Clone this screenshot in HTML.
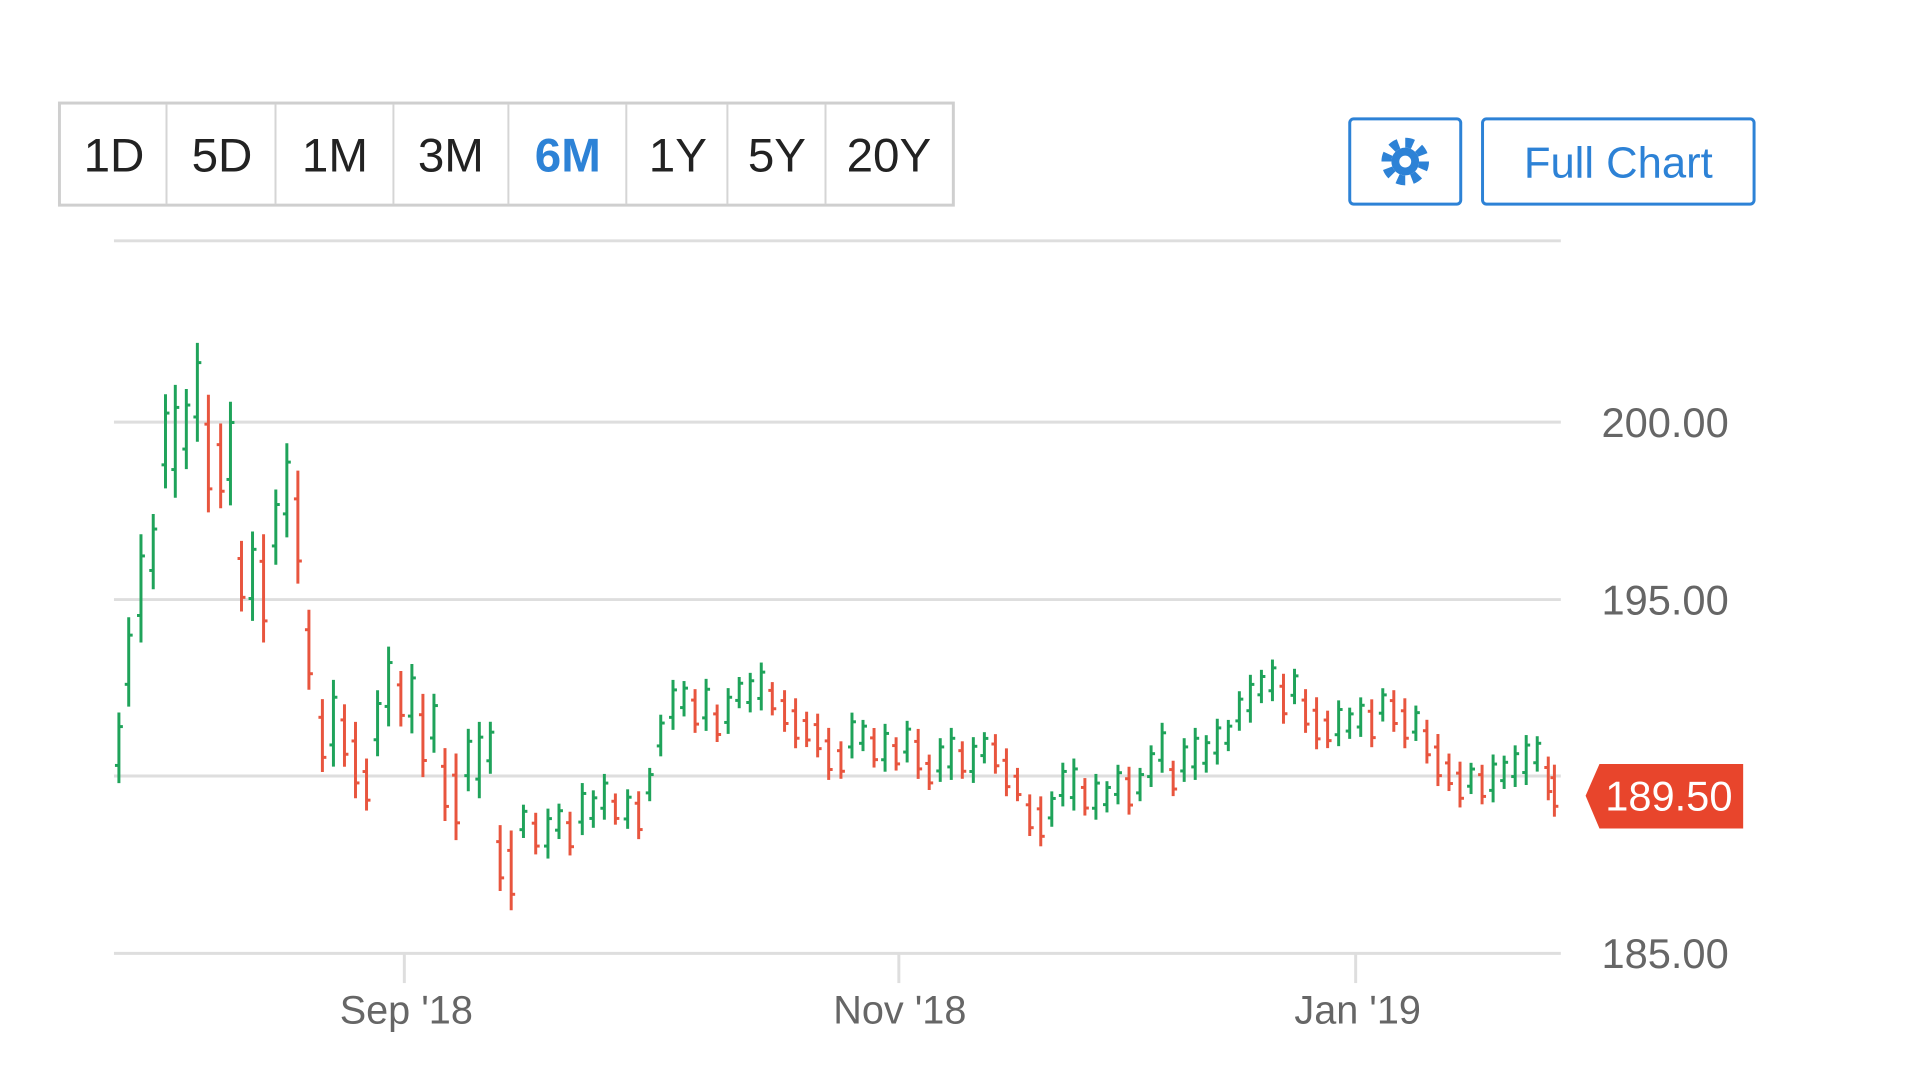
<!DOCTYPE html>
<html><head><meta charset="utf-8">
<style>
html,body{margin:0;padding:0;background:#fff;width:1920px;height:1092px;overflow:hidden;font-family:"Liberation Sans","DejaVu Sans",sans-serif;}
svg{position:absolute;left:0;top:0;}
</style></head>
<body>
<svg id="s" width="1920" height="1092" xmlns="http://www.w3.org/2000/svg">
<g transform="scale(0.991)">
<rect x="60" y="104" width="902" height="103" fill="#fff" stroke="#cfcfcf" stroke-width="3"/>
<g stroke="#d5d5d5" stroke-width="2">
<line x1="168" y1="105" x2="168" y2="206"/><line x1="278" y1="105" x2="278" y2="206"/>
<line x1="397" y1="105" x2="397" y2="206"/><line x1="513" y1="105" x2="513" y2="206"/>
<line x1="632" y1="105" x2="632" y2="206"/><line x1="734" y1="105" x2="734" y2="206"/>
<line x1="833" y1="105" x2="833" y2="206"/>
</g>
<g font-size="48" fill="#222" text-anchor="middle">
<text x="115" y="173">1D</text><text x="224" y="173">5D</text><text x="338" y="173">1M</text>
<text x="455" y="173">3M</text><text x="573" y="173" fill="#2d82d6" font-weight="bold">6M</text>
<text x="684" y="173">1Y</text><text x="784" y="173">5Y</text><text x="897" y="173">20Y</text>
</g>
<rect x="1362" y="120" width="112" height="86" rx="4" fill="#fff" stroke="#2d82d6" stroke-width="3"/>
<g transform="translate(1418,163)">
<circle r="19" fill="none" stroke="#2d82d6" stroke-width="10" stroke-dasharray="8 6.9"/>
<circle r="14" fill="#2d82d6"/>
<circle r="6" fill="#fff"/>
</g>
<rect x="1496" y="120" width="274" height="86" rx="4" fill="#fff" stroke="#2d82d6" stroke-width="3"/>
<text x="1633" y="179" font-size="44" fill="#2d82d6" text-anchor="middle">Full Chart</text>
<g stroke="#dedede" stroke-width="3">
<line x1="115" y1="243" x2="1575" y2="243"/>
<line x1="115" y1="426" x2="1575" y2="426"/>
<line x1="115" y1="605" x2="1575" y2="605"/>
<line x1="115" y1="783" x2="1575" y2="783"/>
<line x1="115" y1="962" x2="1575" y2="962"/>
<line x1="408" y1="962" x2="408" y2="992"/>
<line x1="907" y1="962" x2="907" y2="992"/>
<line x1="1368" y1="962" x2="1368" y2="992"/>
</g>
<g font-size="42" fill="#666">
<text x="1616" y="441">200.00</text>
<text x="1616" y="620">195.00</text>
<text x="1616" y="977">185.00</text>
</g>
<g font-size="40" fill="#666" text-anchor="middle">
<text x="410" y="1033">Sep '18</text>
<text x="908" y="1033">Nov '18</text>
<text x="1370" y="1033">Jan '19</text>
</g>
<g id="bars"></g>
<path d="M1600,803 L1614,771 L1759,771 L1759,836 L1614,836 Z" fill="#e8452c"/>
<text x="1684" y="818" font-size="42" fill="#fff" text-anchor="middle">189.50</text>
</g>
</svg>
<script>
(function(){
var P=[[97,610],[105,540],[115,480],[125,450],[135,360],[143,360],[152,350],[161,320],[170,370],[180,380],[188,370],[197,470],[206,470],[215,480],[225,430],[234,400],[243,430],[252,530],[263,600],[272,590],[281,600],[290,620],[299,640],[308,590],[317,560],[327,570],[336,570],[345,600],[354,590],[363,640],[372,650],[382,620],[391,620],[400,610],[408,700],[417,710],[427,670],[437,680],[447,680],[456,670],[465,680],[475,660],[484,660],[493,650],[502,660],[512,660],[521,665],[530,640],[539,600],[549,575],[558,570],[567,580],[576,575],[585,590],[594,580],[603,565],[612,565],[621,560],[630,570],[640,580],[649,590],[658,595],[667,600],[676,615],[686,620],[695,600],[704,600],[713,610],[722,610],[731,615],[740,605],[749,615],[758,630],[767,620],[776,615],[785,620],[794,620],[803,610],[812,615],[821,630],[830,640],[840,665],[849,670],[858,660],[867,640],[876,640],[885,650],[894,650],[903,650],[912,640],[921,645],[930,640],[939,625],[948,610],[957,635],[966,620],[975,615],[984,615],[993,605],[1002,600],[1011,580],[1020,570],[1029,560],[1038,555],[1047,570],[1056,560],[1065,580],[1074,590],[1083,595],[1092,590],[1101,590],[1110,585],[1119,590],[1128,575],[1137,580],[1146,590],[1155,590],[1164,605],[1173,620],[1182,630],[1191,640],[1200,635],[1209,640],[1218,635],[1227,630],[1236,625],[1245,620],[1254,615],[1263,635],[1268,645]];
var k=1.237,g=document.getElementById('bars'),h='';
for(var i=0;i<P.length;i++){
 var x=P[i][0]*k,m=P[i][1]*k,prev=i>0?P[i-1][1]*k:m+20;
 var r=(P[i][0]<260?95:(P[i][0]<420?70:42))*(0.75+0.5*((i*37)%11)/10);
 var red=m>prev;
 var c=red?'#e8553e':'#1fa35a';
 var y1=m-r/2,y2=m+r/2;
 var o=red?y1+r*0.25:y2-r*0.25, cl=red?y2-r*0.2:y1+r*0.2;
 h+='<g stroke="'+c+'" stroke-width="3"><line x1="'+x+'" y1="'+y1+'" x2="'+x+'" y2="'+y2+'"/><line x1="'+(x-4)+'" y1="'+o+'" x2="'+x+'" y2="'+o+'"/><line x1="'+x+'" y1="'+cl+'" x2="'+(x+4)+'" y2="'+cl+'"/></g>';
}
g.innerHTML=h;
})();
</script>
</body></html>
